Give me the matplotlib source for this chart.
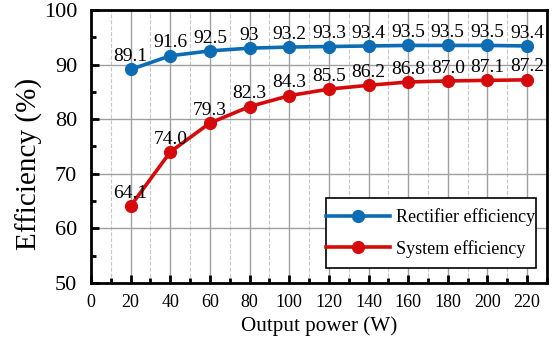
import matplotlib
matplotlib.use("Agg")
import matplotlib.pyplot as plt
from matplotlib.patches import Rectangle
from matplotlib.ticker import MultipleLocator

power = [20, 40, 60, 80, 100, 120, 140, 160, 180, 200, 220]
rectifier = [89.1, 91.6, 92.5, 93.0, 93.2, 93.3, 93.4, 93.5, 93.5, 93.5, 93.4]
system = [64.1, 74.0, 79.3, 82.3, 84.3, 85.5, 86.2, 86.8, 87.0, 87.1, 87.2]
rect_labels = ["89.1", "91.6", "92.5", "93", "93.2", "93.3", "93.4", "93.5", "93.5", "93.5", "93.4"]
sys_labels = ["64.1", "74.0", "79.3", "82.3", "84.3", "85.5", "86.2", "86.8", "87.0", "87.1", "87.2"]

BLUE = "#0C6CB4"
RED = "#D60A0A"

plt.rcParams["font.family"] = ["Liberation Serif", "DejaVu Serif"]

fig = plt.figure(figsize=(5.53, 3.42), dpi=100)
ax = fig.add_axes([0.1646, 0.1725, 0.8244, 0.7985])

ax.plot(power, rectifier, "-o", color=BLUE, lw=2.6, ms=8.5, label="Rectifier efficiency", zorder=3)
ax.plot(power, system, "-o", color=RED, lw=2.6, ms=8.5, label="System efficiency", zorder=3)

for x, y, t in zip(power, rectifier, rect_labels):
    ax.annotate(t, (x, y), xytext=(0, 6), textcoords="offset points",
                ha="center", va="baseline", fontsize=14)
for x, y, t in zip(power, system, sys_labels):
    ax.annotate(t, (x, y), xytext=(0, 6), textcoords="offset points",
                ha="center", va="baseline", fontsize=14)

ax.set_xlim(0, 230)
ax.set_ylim(50, 100)
ax.xaxis.set_major_locator(MultipleLocator(20))
ax.xaxis.set_minor_locator(MultipleLocator(10))
ax.yaxis.set_major_locator(MultipleLocator(10))
ax.yaxis.set_minor_locator(MultipleLocator(5))

ax.grid(which="major", color="#A0A0A0", lw=1.0, ls="-")
ax.grid(which="minor", axis="x", color="#C8C8C8", lw=0.8, ls="--")
ax.set_axisbelow(True)

for s in ax.spines.values():
    s.set_linewidth(2)
ax.tick_params(which="major", direction="in", length=6, width=2)
ax.tick_params(which="minor", direction="in", length=3.5, width=2)
ax.tick_params(axis="x", labelsize=13, pad=8)
ax.tick_params(axis="y", labelsize=16, pad=10)

ax.set_xlabel("Output power (W)", fontsize=15.2, labelpad=4)
ax.set_ylabel("Efficiency (%)", fontsize=21)
ax.yaxis.set_label_coords(-0.106, 0.436)

# legend box: tight horizontally, roomier vertically, so the frame is drawn by hand
ax.add_patch(Rectangle((0.515, 0.055), 0.461, 0.256, transform=ax.transAxes,
                       facecolor="white", edgecolor="black", lw=1.2, zorder=4))
leg = ax.legend(loc="center", bbox_to_anchor=(0.7455, 0.183), fontsize=13,
                frameon=False, handlelength=3.55, handletextpad=0.33,
                borderpad=0.0, borderaxespad=0.0, labelspacing=0.75)
leg.set_zorder(5)

fig.savefig("out.png", dpi=100)
